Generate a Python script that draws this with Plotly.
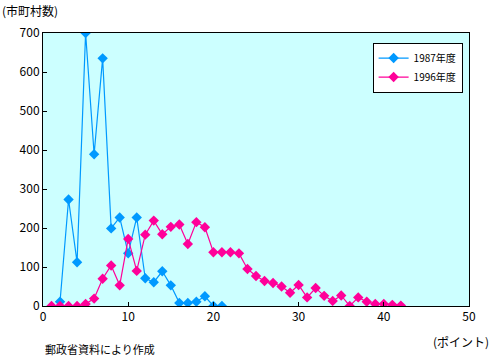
import plotly.graph_objects as go

x1987 = list(range(2, 22))
y1987 = [11, 273, 112, 700, 389, 635, 199, 227, 135, 227, 71, 61, 89, 53, 8, 8, 11, 25, 0, 0]

x1996 = list(range(1, 43))
y1996 = [0, 0, 0, 0, 5, 19, 70, 104, 53, 172, 90, 183, 219, 184, 203, 209, 159, 215, 202, 138,
         138, 138, 135, 95, 77, 64, 59, 50, 34, 54, 22, 46, 26, 13, 27, 0, 22, 11, 5, 5, 3, 1]

xticks = [0, 10, 20, 30, 40, 50]
yticks = [0, 100, 200, 300, 400, 500, 600, 700]

blue = "#0099FF"
pink = "#FF0099"
font = "Noto Sans CJK JP"

fig = go.Figure()
fig.add_trace(go.Scatter(x=x1987, y=y1987, mode="lines+markers", name="1987年度",
                         line=dict(color=blue, width=1.2),
                         marker=dict(symbol="diamond", size=8, color=blue)))
fig.add_trace(go.Scatter(x=x1996, y=y1996, mode="lines+markers", name="1996年度",
                         line=dict(color=pink, width=1.2),
                         marker=dict(symbol="diamond", size=8, color=pink)))

fig.update_layout(
    width=494, height=359,
    margin=dict(l=43, r=25, t=33, b=53),
    paper_bgcolor="white", plot_bgcolor="#CCFFFF",
    font=dict(family=font, size=11, color="black"),
    showlegend=True,
    legend=dict(x=0.985, y=0.965, xanchor="right", yanchor="top",
                bgcolor="white", bordercolor="black", borderwidth=1,
                font=dict(size=10, family=font), tracegroupgap=0,
                itemwidth=30),
    xaxis=dict(range=[0, 50], tickvals=xticks, ticktext=[str(v) for v in xticks],
               showgrid=False, zeroline=False, showline=True, linecolor="black", linewidth=1,
               mirror=True, ticks="inside", ticklen=4, tickcolor="black",
               tickfont=dict(size=12, family=font)),
    yaxis=dict(range=[0, 700], tickvals=yticks, ticktext=[str(v) for v in yticks],
               showgrid=False, zeroline=False, showline=True, linecolor="black", linewidth=1,
               mirror=True, ticks="inside", ticklen=4, tickcolor="black",
               tickfont=dict(size=12, family=font)),
)
fig.add_annotation(text="(市町村数)", xref="paper", yref="paper", x=-43/426, y=1 + 23/273,
                   xanchor="left", yanchor="middle", showarrow=False, font=dict(size=12, family=font))
fig.add_annotation(text="(ポイント)", xref="paper", yref="paper", x=1 + 22/426, y=-35/273,
                   xanchor="right", yanchor="middle", showarrow=False, font=dict(size=12, family=font))
fig.add_annotation(text="郵政省資料により作成", xref="paper", yref="paper", x=0, y=-43/273,
                   xanchor="left", yanchor="middle", showarrow=False, font=dict(size=11, family=font))

fig.write_html("out.html", config={"displayModeBar": False},
               post_script="document.body.style.margin='0';document.body.style.padding='0';")
